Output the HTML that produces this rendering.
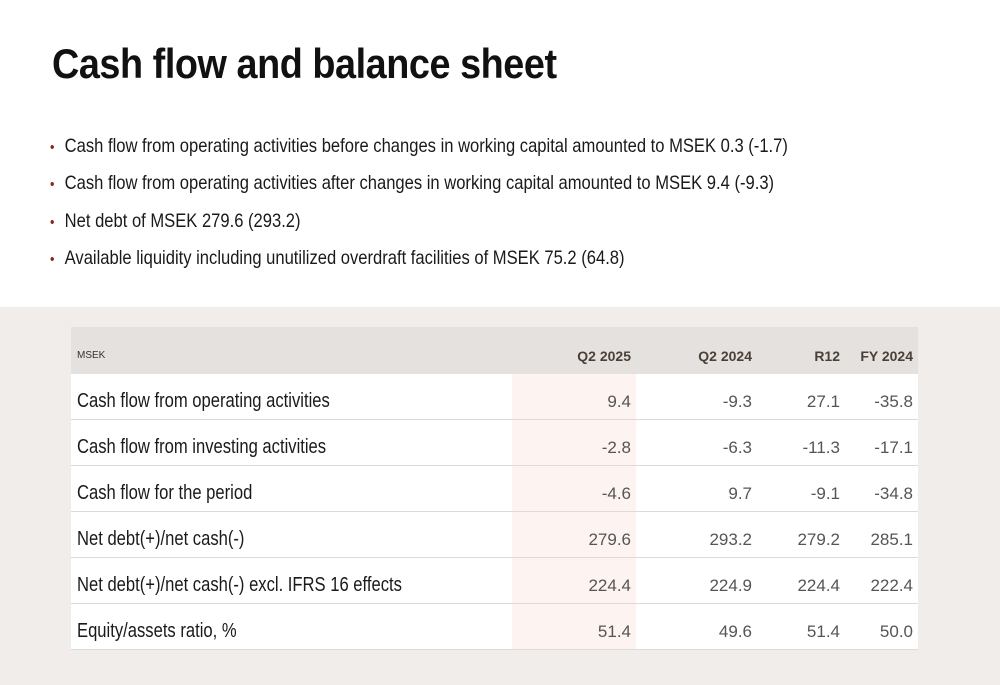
<!DOCTYPE html>
<html><head><meta charset="utf-8"><style>
body{margin:0;width:1000px;height:685px;background:#fff;overflow:hidden;position:relative;font-family:"Liberation Sans",sans-serif;color:#1a1a1a}
h1{position:absolute;left:52px;top:40px;margin:0;font-weight:bold;font-size:42px;letter-spacing:-0.5px;transform:scaleX(0.9);transform-origin:left;color:#111;white-space:nowrap}
ul{position:absolute;left:50px;top:132px;margin:0;padding:0;list-style:none}
li{font-size:19.5px;height:37.3px;line-height:28px;transform:scaleX(0.85);transform-origin:left;white-space:nowrap}
li:before{content:"•";color:#8b2323;margin-right:12px;font-size:15px}
.bg{position:absolute;left:0;top:307px;width:1000px;height:378px;background:#f1edeb}
table{position:absolute;left:71px;top:327px;width:847px;border-collapse:collapse;background:#fff}
th{background:#e5e1de;height:37px;padding:10px 0 0 0;text-align:right;font-size:14px;font-weight:bold;color:#4a4037;vertical-align:middle}
th.l{text-align:left;font-size:10px;font-weight:normal;padding-left:6px;color:#333}
td{height:35px;padding:10px 0 0 0;border-bottom:1px solid #dedad7;text-align:right;font-size:17px;color:#555;vertical-align:middle}
td.l{text-align:left;font-size:20px;color:#1a1a1a;padding-left:6px;white-space:nowrap}
td.l span{display:inline-block;transform:scaleX(0.83);transform-origin:left}
.hl{background:#fdf3f0}
</style></head><body>
<h1>Cash flow and balance sheet</h1>
<ul>
<li>Cash flow from operating activities before changes in working capital amounted to MSEK 0.3 (-1.7)</li>
<li>Cash flow from operating activities after changes in working capital amounted to MSEK 9.4 (-9.3)</li>
<li>Net debt of MSEK 279.6 (293.2)</li>
<li>Available liquidity including unutilized overdraft facilities of MSEK 75.2 (64.8)</li>
</ul>
<div class="bg"></div>
<table>
<colgroup><col style="width:441px"><col style="width:124px"><col style="width:116px"><col style="width:88px"><col style="width:78px"></colgroup>
<tr><th class="l">MSEK</th><th style="padding-right:5px">Q2 2025</th><th>Q2 2024</th><th>R12</th><th style="padding-right:5px">FY 2024</th></tr>
<tr><td class="l"><span>Cash flow from operating activities</span></td><td class="hl" style="padding-right:5px">9.4</td><td>-9.3</td><td>27.1</td><td style="padding-right:5px">-35.8</td></tr>
<tr><td class="l"><span>Cash flow from investing activities</span></td><td class="hl" style="padding-right:5px">-2.8</td><td>-6.3</td><td>-11.3</td><td style="padding-right:5px">-17.1</td></tr>
<tr><td class="l"><span>Cash flow for the period</span></td><td class="hl" style="padding-right:5px">-4.6</td><td>9.7</td><td>-9.1</td><td style="padding-right:5px">-34.8</td></tr>
<tr><td class="l"><span>Net debt(+)/net cash(-)</span></td><td class="hl" style="padding-right:5px">279.6</td><td>293.2</td><td>279.2</td><td style="padding-right:5px">285.1</td></tr>
<tr><td class="l"><span>Net debt(+)/net cash(-) excl. IFRS 16 effects</span></td><td class="hl" style="padding-right:5px">224.4</td><td>224.9</td><td>224.4</td><td style="padding-right:5px">222.4</td></tr>
<tr><td class="l"><span>Equity/assets ratio, %</span></td><td class="hl" style="padding-right:5px">51.4</td><td>49.6</td><td>51.4</td><td style="padding-right:5px">50.0</td></tr>
</table>
</body></html>
